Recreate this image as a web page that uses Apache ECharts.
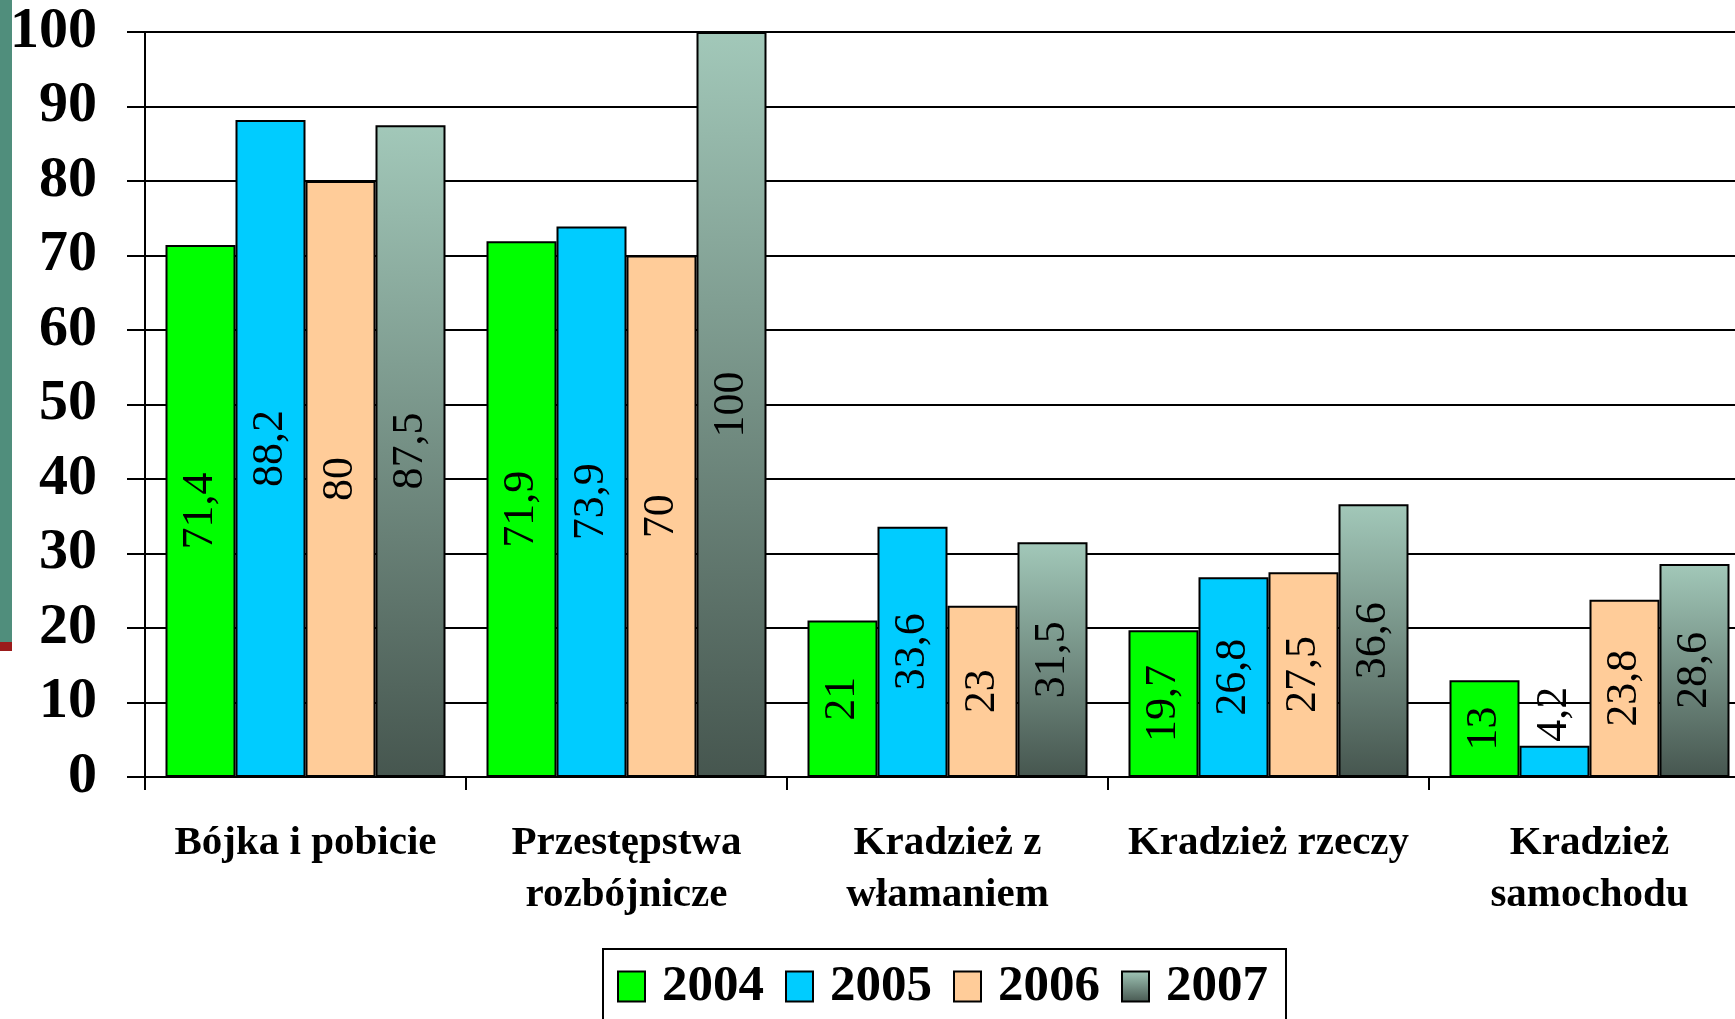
<!DOCTYPE html>
<html>
<head>
<meta charset="utf-8">
<title>Przestępstwa 2004-2007</title>
<script src="https://cdn.jsdelivr.net/npm/echarts@6/dist/echarts.min.js"></script>
<style>
  html, body { margin: 0; padding: 0; background: #fff; overflow: hidden; }
  /* plot area runs a bit past the right edge of the slide */
  #chart { width: 1750px; height: 1019px; }
</style>
</head>
<body>
<div id="chart"></div>
<script>
// data
var categories = ['Bójka i pobicie', 'Przestępstwa\nrozbójnicze', 'Kradzież z\nwłamaniem', 'Kradzież rzeczy', 'Kradzież\nsamochodu'];
var years = ['2004', '2005', '2006', '2007'];
var v2004 = [71.4, 71.9, 21, 19.7, 13];
var v2005 = [88.2, 73.9, 33.6, 26.8, 4.2];
var v2006 = [80, 70, 23, 27.5, 23.8];
var v2007 = [87.5, 100, 31.5, 36.6, 28.6];

var serif = '"Liberation Serif", "Times New Roman", serif';

var chart = echarts.init(document.getElementById('chart'));

// small bars get their label above the bar
function toItems(arr) {
  return arr.map(function (v) {
    if (v < 8) {
      return { value: v, label: { position: 'top', align: 'left', verticalAlign: 'middle', distance: 4 } };
    }
    return v;
  });
}

function makeSeries(name, arr, color) {
  return {
    name: name,
    type: 'bar',
    data: toItems(arr),
    barWidth: 70,
    barGap: '0%',
    itemStyle: {
      color: color,
      borderColor: '#000',
      borderWidth: 2
    },
    label: {
      show: true,
      position: 'inside',
      rotate: 90,
      color: '#000',
      fontFamily: serif,
      fontSize: 44,
      formatter: function (p) {
        return String(p.value).replace('.', ',');
      }
    }
  };
}

var grad2007 = new echarts.graphic.LinearGradient(0, 0, 0, 1, [
  { offset: 0, color: '#a2c8b9' },
  { offset: 1, color: '#46564f' }
]);

chart.setOption({
  animation: false,
  graphic: [
    { type: 'rect', shape: { x: 0, y: 0, width: 12, height: 642 }, style: { fill: '#508e7c' } },
    { type: 'rect', shape: { x: 0, y: 642, width: 12, height: 9 }, style: { fill: '#9b1b1b' } }
  ],
  grid: {
    left: 145,
    top: 32,
    right: 0,
    bottom: 242
  },
  legend: {
    data: years,
    left: 603,
    top: 949,
    orient: 'horizontal',
    itemWidth: 27,
    itemHeight: 30,
    itemGap: 21,
    padding: [12, 18, 14, 14],
    borderColor: '#000',
    borderWidth: 2,
    icon: 'rect',
    textStyle: {
      fontFamily: serif,
      fontWeight: 'bold',
      fontSize: 51,
      color: '#000',
      padding: [0, 0, 0, 12]
    }
  },
  xAxis: {
    type: 'category',
    data: categories,
    axisLine: { lineStyle: { color: '#000', width: 2 } },
    axisTick: { show: true, length: 13, lineStyle: { color: '#000', width: 2 } },
    axisLabel: {
      margin: 40,
      interval: 0,
      fontFamily: serif,
      fontWeight: 'bold',
      fontSize: 41,
      lineHeight: 52,
      color: '#000'
    }
  },
  yAxis: {
    type: 'value',
    min: 0,
    max: 100,
    interval: 10,
    axisLine: { show: true, lineStyle: { color: '#000', width: 2 } },
    axisTick: { show: true, length: 18, lineStyle: { color: '#000', width: 2 } },
    splitLine: { show: true, lineStyle: { color: '#000', width: 2 } },
    axisLabel: {
      margin: 48,
      fontFamily: serif,
      fontWeight: 'bold',
      fontSize: 58,
      color: '#000'
    }
  },
  series: [
    makeSeries('2004', v2004, '#00ff00'),
    makeSeries('2005', v2005, '#00ccff'),
    makeSeries('2006', v2006, '#ffcc99'),
    makeSeries('2007', v2007, grad2007)
  ]
});
</script>
</body>
</html>
